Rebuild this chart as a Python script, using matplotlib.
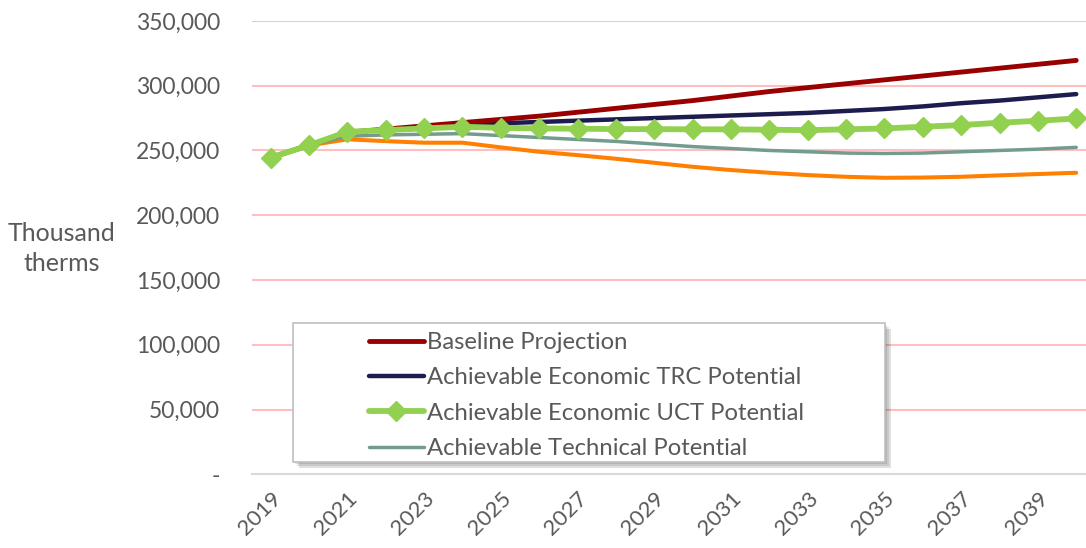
import matplotlib
matplotlib.use("Agg")
import matplotlib.pyplot as plt
from matplotlib.patches import Rectangle
from matplotlib.ticker import FuncFormatter

years = list(range(2019, 2041))

baseline = [244500, 254000, 264000, 266500, 269000, 271500, 274000, 276500,
            279500, 282500, 285500, 288500, 292000, 295500, 298500, 301500,
            304500, 307500, 310500, 313500, 316500, 319500]
trc = [244500, 254000, 264000, 266000, 268000, 270000, 271000, 272000,
       273000, 274000, 275000, 276000, 277000, 278000, 279000, 280500,
       282000, 284000, 286500, 288500, 291000, 293500]
uct = [244500, 254000, 264400, 265700, 267000, 268300, 267500, 267000,
       266800, 266500, 266500, 266300, 266300, 266000, 265700, 266300,
       267000, 268300, 269600, 271400, 272900, 274700]
technical = [244500, 254000, 261000, 262000, 262500, 263000, 261500, 260000,
             258500, 257000, 255000, 253000, 251500, 250000, 249000, 248000,
             247700, 248000, 249000, 250000, 251000, 252400]
other = [244500, 253900, 258600, 257200, 256000, 256000, 252400, 249000,
         246400, 243600, 240500, 237400, 234900, 232800, 231000, 229700,
         228900, 229100, 229700, 230800, 231800, 232800]

series_labels = ["Baseline Projection",
                 "Achievable Economic TRC Potential",
                 "Achievable Economic UCT Potential",
                 "Achievable Technical Potential"]
y_ticks = [0, 50000, 100000, 150000, 200000, 250000, 300000, 350000]

TEXT = "#595959"
plt.rcParams["font.family"] = ["Lato", "DejaVu Sans"]

W, H = 1086, 548
fig = plt.figure(figsize=(W / 100, H / 100), dpi=100)
ax_left, ax_right = 251.5, 1095.4
ax_top, ax_bottom = 20.9, 474.4
ax = fig.add_axes([ax_left / W, 1 - ax_bottom / H,
                   (ax_right - ax_left) / W, (ax_bottom - ax_top) / H])

x = list(range(len(years)))
ax.plot(x, other, color="#FF8000", lw=2.9, zorder=3, solid_capstyle="round")
ax.plot(x, technical, color="#739C8E", lw=2.5, zorder=4, solid_capstyle="round")
ax.plot(x, uct, color="#92D050", lw=4.2, marker="D", ms=10.5, zorder=5,
        solid_capstyle="round")
ax.plot(x, trc, color="#1C1C4E", lw=3.2, zorder=4.5, solid_capstyle="round")
ax.plot(x, baseline, color="#990000", lw=3.5, zorder=4.6, solid_capstyle="round")

ax.set_xlim(-0.5, len(years) - 0.5)
ax.set_ylim(0, 350000)
ax.set_yticks(y_ticks)
ax.yaxis.set_major_formatter(FuncFormatter(lambda v, p: "-" if v == 0 else f"{int(v):,}"))
ax.set_xticks(x[::2])
ax.set_xticklabels([str(y) for y in years[::2]])
for lbl in ax.get_xticklabels():
    lbl.set_rotation(45)
    lbl.set_ha("right")
    lbl.set_va("top")
    lbl.set_rotation_mode("anchor")

ax.tick_params(axis="both", length=0, colors=TEXT)
ax.tick_params(axis="y", pad=22.7, labelsize=16.5)
ax.tick_params(axis="x", pad=10, labelsize=16)
ax.grid(axis="y", color="#FFBFBF", lw=1.5)
ax.set_axisbelow(True)
for s in ["top", "right", "left"]:
    ax.spines[s].set_visible(False)
ax.spines["bottom"].set_color("#D9D9D9")
ax.spines["bottom"].set_linewidth(1.5)
ax.yaxis.get_gridlines()[0].set_visible(False)

fig.text(62 / W, 1 - 248.5 / H, "Thousand\ntherms", ha="center", va="center",
         fontsize=18, color=TEXT, linespacing=1.32)

# legend frame with soft shadow
lx0, ly0, lx1, ly1 = 293, 323, 885, 462
for i, a in enumerate([0.10, 0.10, 0.12]):
    off = 2 + 2 * i
    fig.patches.append(Rectangle(((lx0 + off) / W, 1 - (ly1 + off) / H),
                                 (lx1 - lx0) / W, (ly1 - ly0) / H,
                                 transform=fig.transFigure, facecolor="black",
                                 edgecolor="none", alpha=a, zorder=9))
fig.patches.append(Rectangle((lx0 / W, 1 - ly1 / H), (lx1 - lx0) / W, (ly1 - ly0) / H,
                             transform=fig.transFigure, facecolor="white",
                             edgecolor="#BFBFBF", lw=1.2, zorder=10))

handles = ax.get_lines()[::-1][:4]
leg = fig.legend(handles, series_labels, loc="upper left",
                 bbox_to_anchor=(369 / W, 1 - 332 / H), frameon=False,
                 fontsize=17.2, labelcolor=TEXT, handlelength=2.3,
                 handletextpad=0.13, labelspacing=0.6, borderpad=0,
                 borderaxespad=0)
leg.set_zorder(11)

fig.savefig("out.png", dpi=100)
